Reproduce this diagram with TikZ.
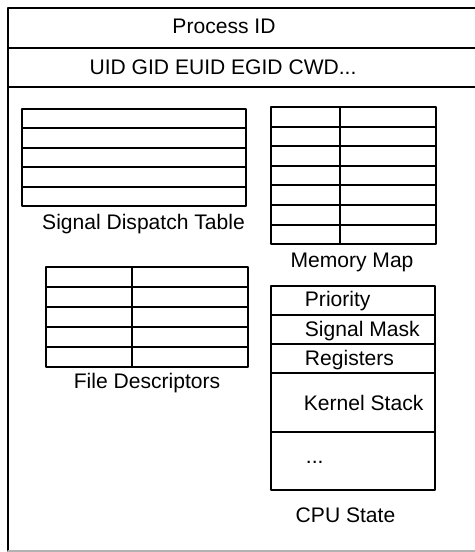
\documentclass[tikz,border=0pt]{standalone}
\usepackage{fontspec}
\setmainfont{Liberation Sans}
\begin{document}
\begin{tikzpicture}[x=0.75pt,y=-0.75pt,line cap=round,line join=round,line width=1.4pt,font=\fontsize{15.8}{19}\selectfont]
	\useasboundingbox (0,0) rectangle (474,552);
	\tikzset{lbl/.style={inner sep=0pt,anchor=base}, cell/.style={inner sep=0pt,anchor=base west}}
	% outer frame
	\draw (480,8) -- (8,8) -- (8,551);
	\draw (8,48) -- (480,48) (8,87) -- (480,87);
	\draw[gray!60,line width=0.8pt] (8,551) -- (480,551);
	\node[lbl] (pid) at (224,34) {Process ID};
	\node[lbl] (ids) at (223,75) {UID GID EUID EGID CWD...};
	% signal dispatch table
	\def\h{19.4}
	\foreach \i in {0,...,4}{\draw (22,109+\i*\h) rectangle (246,109+\i*\h+\h);}
	\node[lbl] (sdt) at (143.5,229) {Signal Dispatch Table};
	% memory map
	\def\h{19.6}
	\foreach \i in {0,...,6}{\draw (271,107+\i*\h) rectangle (340,107+\i*\h+\h);\draw (340,107+\i*\h) rectangle (436,107+\i*\h+\h);}
	\node[lbl] (mm) at (352,267) {Memory Map};
	% file descriptors
	\def\h{20}
	\foreach \i in {0,...,4}{\draw (46,267+\i*\h) rectangle (132,267+\i*\h+\h);\draw (132,267+\i*\h) rectangle (248,267+\i*\h+\h);}
	\node[lbl] (fd) at (147,388) {File Descriptors};
	% cpu state
	\draw (271,286) rectangle (435,490);
	\foreach \y in {315,344,373,432}{\draw (271,\y) -- (435,\y);}
	\node[cell] (prio) at (304,306) {Priority};
	\node[cell] (mask) at (304,336) {Signal Mask};
	\node[cell] (regs) at (304,365) {Registers};
	\node[cell] (kstack) at (303,410) {Kernel Stack};
	\node[cell] (more) at (305,463) {...};
	\node[lbl] (cpu) at (345.5,522) {CPU State};
\end{tikzpicture}
\end{document}
